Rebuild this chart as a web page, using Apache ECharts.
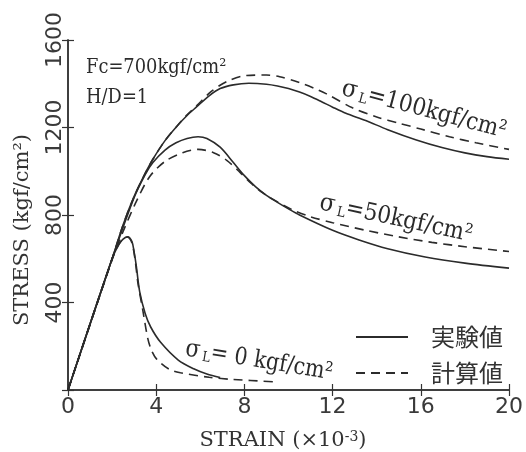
<!DOCTYPE html>
<html>
<head>
<meta charset="utf-8">
<script src="https://cdn.jsdelivr.net/npm/echarts@6/dist/echarts.min.js"></script>
<style>
html,body{margin:0;padding:0;background:#fff;}
#c{width:526px;height:452px;}
</style>
</head>
<body>
<div id="c"></div>
<script>
// ---- data (strain ×10^-3, stress kgf/cm^2) ----
const xTicks = [0, 4, 8, 12, 16, 20];
const yTicks = [0, 400, 800, 1200, 1600];

// σL = 0, experiment (solid)
const strain0Exp = [0, 2.0, 2.3, 2.5, 2.7, 2.9, 3.0, 3.1, 3.25, 3.5, 3.75, 4.2, 5.0, 5.7, 6.3, 6.9];
const stress0Exp = [0, 600, 665, 690, 700, 678, 630, 565, 450, 350, 288, 218, 137, 97, 73, 57];
// σL = 0, calculation (dashed)
const strain0Cal = [0, 2.0, 2.3, 2.5, 2.7, 2.9, 3.05, 3.17, 3.39, 3.62, 3.8, 4.03, 4.6, 5.1, 6.4, 7.5, 9.3];
const stress0Cal = [0, 600, 665, 690, 700, 672, 590, 490, 366, 235, 178, 140, 94, 79, 58, 48, 38];

// σL = 50, experiment (solid)
const strain50Exp = [0, 2.0, 3.0, 3.5, 3.85, 4.4, 4.9, 5.4, 5.9, 6.3, 6.9, 7.5, 8.0, 8.5, 9.0, 9.5, 10.0, 10.5, 12.0, 13.2, 14.5, 16.2, 18.0, 20.0];
const stress50Exp = [0, 600, 880, 985, 1040, 1097, 1130, 1150, 1158, 1150, 1110, 1040, 980, 930, 890, 858, 828, 800, 730, 686, 646, 608, 580, 557];
// σL = 50, calculation (dashed)
const strain50Cal = [0, 2.0, 2.5, 3.1, 3.7, 4.4, 5.2, 5.9, 6.6, 7.2, 7.8, 8.3, 8.8, 9.5, 10.2, 11.0, 12.0, 13.5, 15.0, 16.5, 18.0, 20.0];
const stress50Cal = [0, 595, 725, 862, 975, 1045, 1085, 1100, 1085, 1050, 995, 945, 903, 860, 823, 792, 765, 730, 700, 675, 655, 633];

// σL = 100, experiment (solid)
const strain100Exp = [0, 2.0, 2.5, 3.0, 3.5, 3.85, 4.4, 4.93, 5.4, 5.84, 6.4, 6.9, 7.5, 8.2, 9.0, 9.5, 10.0, 10.5, 11.0, 11.5, 12.0, 12.6, 13.5, 14.5, 15.8, 17.0, 18.0, 19.0, 20.0];
const stress100Exp = [0, 600, 755, 885, 990, 1055, 1140, 1205, 1255, 1295, 1345, 1378, 1395, 1402, 1398, 1390, 1378, 1362, 1342, 1318, 1293, 1265, 1232, 1190, 1143, 1107, 1084, 1067, 1055];
// σL = 100, calculation (dashed)
const strain100Cal = [0, 2.0, 2.5, 3.0, 3.5, 3.85, 4.4, 4.93, 5.4, 5.84, 6.5, 7.2, 8.1, 9.0, 9.6, 10.5, 11.2, 11.7, 12.9, 14.0, 15.0, 16.0, 17.3, 18.5, 20.0];
const stress100Cal = [0, 600, 755, 885, 990, 1055, 1140, 1205, 1258, 1300, 1365, 1410, 1438, 1440, 1432, 1405, 1378, 1355, 1290, 1248, 1220, 1193, 1158, 1130, 1100];

const nameExp = '実験値';
const nameCal = '計算値';

function pairs(xs, ys) { return xs.map((x, i) => [x, ys[i]]); }

const ink = '#2b2b2b';
const serif = '"DejaVu Serif", "Liberation Serif", serif';
const cjk = '"Noto Sans CJK JP", "Noto Sans CJK SC", sans-serif';
const num = '"DejaVu Sans", sans-serif';

function lineSeries(name, xs, ys, dashed) {
  return {
    type: 'line', name: name, data: pairs(xs, ys),
    symbol: 'none', showSymbol: false, smooth: 0.3,
    lineStyle: { color: ink, width: 1.6, type: dashed ? [9, 6] : 'solid' },
    itemStyle: { color: ink },
    animation: false, z: 3
  };
}

const chart = echarts.init(document.getElementById('c'), null, { renderer: 'canvas' });

const axisCommon = {
  axisLine: { show: true, lineStyle: { color: '#333', width: 1.5 } },
  axisTick: { show: true, inside: true, length: 6, lineStyle: { color: '#333', width: 1.2 } },
  splitLine: { show: false }
};

function sigmaLabel(valueText) {
  return '{s|σ} {l|L}{t|' + valueText + '}';
}
const sigmaRich = {
  s: { fontFamily: serif, fontSize: 25, fill: ink, verticalAlign: 'middle' },
  l: { fontFamily: serif, fontSize: 14, fill: ink, verticalAlign: 'bottom' },
  t: { fontFamily: serif, fontSize: 24, fill: ink, verticalAlign: 'middle' }
};

const option = {
  backgroundColor: '#ffffff',
  animation: false,
  grid: { left: 68, right: 15, top: 40, bottom: 62, containLabel: false },
  legend: {
    data: [nameExp, nameCal],
    orient: 'vertical',
    left: 350, top: 320,
    itemWidth: 52, itemHeight: 22, itemGap: 12,
    itemStyle: { opacity: 0 },
    textStyle: { fontFamily: cjk, fontSize: 24, color: '#333', padding: [0, 0, 0, 18] },
    selectedMode: false
  },
  xAxis: [
    Object.assign({
      type: 'value', min: xTicks[0], max: xTicks[xTicks.length - 1], interval: 4,
      position: 'bottom',
      axisLabel: { show: true, fontFamily: num, fontSize: 22, color: '#3a3a3a', margin: 6,
        formatter: v => String(v) }
    }, axisCommon),
    Object.assign({
      type: 'value', min: xTicks[0], max: xTicks[xTicks.length - 1], interval: 4,
      position: 'top', axisLabel: { show: false }
    }, axisCommon)
  ],
  yAxis: [
    Object.assign({
      type: 'value', min: yTicks[0], max: yTicks[yTicks.length - 1], interval: 400,
      position: 'left',
      axisLabel: { show: true, rotate: 90, fontFamily: num, fontSize: 22, color: '#3a3a3a', margin: 2,
        formatter: v => (v === 0 ? '' : String(v)) }
    }, axisCommon),
    Object.assign({
      type: 'value', min: yTicks[0], max: yTicks[yTicks.length - 1], interval: 400,
      position: 'right', axisLabel: { show: false }
    }, axisCommon)
  ],
  series: [
    lineSeries(nameExp, strain0Exp, stress0Exp, false),
    lineSeries(nameCal, strain0Cal, stress0Cal, true),
    lineSeries(nameExp, strain50Exp, stress50Exp, false),
    lineSeries(nameCal, strain50Cal, stress50Cal, true),
    lineSeries(nameExp, strain100Exp, stress100Exp, false),
    lineSeries(nameCal, strain100Cal, stress100Cal, true)
  ],
  graphic: [
    { type: 'text', x: 86, y: 68, scaleX: 0.85, scaleY: 1,
      style: { text: 'Fc=700kgf/cm²', fontFamily: serif, fontSize: 21, fill: ink, verticalAlign: 'middle', align: 'left' } },
    { type: 'text', x: 86, y: 98, scaleX: 0.85, scaleY: 1,
      style: { text: 'H/D=1', fontFamily: serif, fontSize: 21, fill: ink, verticalAlign: 'middle', align: 'left' } },
    { type: 'text', x: 424, y: 110, rotation: -0.26, scaleX: 0.9,
      style: { text: sigmaLabel('=100kgf/cm²'), rich: sigmaRich, align: 'center', verticalAlign: 'middle' } },
    { type: 'text', x: 396, y: 219, rotation: -0.21, scaleX: 0.9,
      style: { text: sigmaLabel('=50kgf/cm²'), rich: sigmaRich, align: 'center', verticalAlign: 'middle' } },
    { type: 'text', x: 259, y: 361, rotation: -0.165, scaleX: 0.86,
      style: { text: sigmaLabel('= 0 kgf/cm²'), rich: sigmaRich, align: 'center', verticalAlign: 'middle' } },
    { type: 'text', x: 23, y: 230, rotation: Math.PI / 2,
      style: { text: 'STRESS (kgf/cm²)', fontFamily: serif, fontSize: 21, fill: '#333', align: 'center', verticalAlign: 'middle' } },
    { type: 'text', x: 283, y: 441,
      style: { text: 'STRAIN (×10{sup|-3})', fontFamily: serif, fontSize: 21, fill: '#333', align: 'center', verticalAlign: 'middle',
        rich: { sup: { fontFamily: serif, fontSize: 14, fill: '#333', verticalAlign: 'top' } } } }
  ]
};

chart.setOption(option);
</script>
</body>
</html>
